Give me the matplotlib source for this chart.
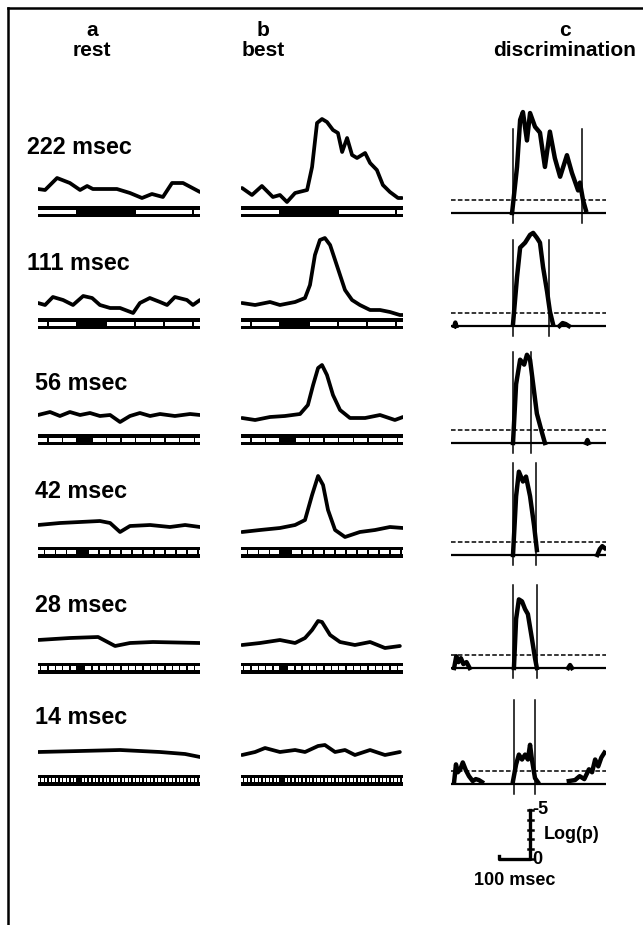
import numpy as np
import matplotlib
matplotlib.use("Agg")
import matplotlib.pyplot as plt
from matplotlib.patches import Rectangle

plt.rcParams['font.family'] = ['Liberation Sans', 'DejaVu Sans']

W, H = 643, 925

durations = [222, 111, 56, 42, 28, 14]
row_labels = ["222 msec", "111 msec", "56 msec", "42 msec", "28 msec", "14 msec"]

# column a (rest) traces: time (msec) and response height
rest_t = [
    [-150, -123, -77, -28, 11, 38, 60, 114, 152, 202, 248, 286, 328, 363, 405, 470],
    [-150, -123, -93, -54, -16, 23, 57, 87, 126, 164, 214, 240, 278, 317, 344, 374, 420, 443, 470],
    [-150, -104, -66, -28, 11, 49, 87, 126, 164, 202, 240, 279, 317, 374, 432, 470],
    [-150, -66, 11, 87, 126, 164, 202, 279, 355, 413, 470],
    [-150, -28, 80, 145, 202, 290, 470],
    [-150, 11, 164, 317, 413, 470],
]
rest_v = [
    [22.5, 21.5, 33.5, 28.5, 21.5, 25.5, 22.5, 22.5, 22.5, 18.5, 13.5, 17.5, 14.5, 28.5, 28.5, 19.5],
    [20.5, 18.5, 26.5, 23.5, 18.5, 27.5, 25.5, 18.5, 15.5, 15.5, 10.5, 20.5, 25.5, 21.5, 18.5, 26.5, 23.5, 18.5, 23.5],
    [25, 28, 24, 28, 25, 27, 24, 25, 18, 24, 27, 24, 26, 24, 26, 25],
    [27, 29, 30, 31, 29, 20, 26, 27, 25, 27, 25],
    [28, 30, 31, 22, 25, 26, 25],
    [28, 29, 30, 28, 26, 23],
]

# column b (best) traces
best_t = [
    [-146, -108, -70, -28, -1, 26, 57, 103, 122, 141, 160, 179, 202, 221, 237, 256, 275, 294, 325, 344, 370, 393, 420, 451, 466],
    [-146, -96, -39, -1, 57, 95, 114, 133, 152, 171, 191, 210, 229, 248, 275, 305, 344, 382, 420, 458, 470],
    [-146, -96, -39, 18, 76, 106, 126, 145, 160, 179, 202, 229, 267, 325, 382, 439, 470],
    [-146, -77, -1, 57, 95, 122, 145, 164, 183, 210, 248, 305, 363, 420, 470],
    [-146, -77, -1, 57, 95, 122, 145, 160, 191, 229, 286, 344, 401, 458],
    [-146, -96, -58, -1, 57, 95, 145, 171, 210, 248, 286, 344, 401, 458],
]
best_v = [
    [23.5, 16.5, 25.5, 14.5, 16.5, 9.5, 18.5, 21.5, 44.5, 88.5, 92.5, 89.5, 81.5, 78.5, 59.5, 73.5, 56.5, 53.5, 58.5, 48.5, 41.5, 26.5, 19.5, 13.5, 13.5],
    [20.5, 18.5, 21.5, 18.5, 21.5, 25.5, 38.5, 68.5, 83.5, 85.5, 78.5, 63.5, 48.5, 33.5, 23.5, 18.5, 13.5, 13.5, 11.5, 8.5, 8.5],
    [22, 20, 23, 24, 26, 35, 55, 72, 75, 65, 45, 30, 22, 22, 25, 20, 23],
    [20, 22, 24, 27, 32, 57, 76, 67, 42, 22, 15, 20, 22, 25, 24],
    [23, 25, 28, 25, 30, 38, 47, 46, 33, 26, 23, 26, 20, 22],
    [25, 28, 32, 28, 30, 28, 34, 35, 28, 30, 25, 30, 25, 28],
]

# column c (discrimination) traces: -log(p) segments per row
disc_segments = [
    [([-3, 13, 23, 32, 45, 55, 71, 87, 103, 119, 135, 152, 174, 190, 210, 216, 226, 235],
      [0, 4.7, 9.5, 10.3, 7.4, 10.2, 8.8, 8.2, 4.7, 8.3, 5.6, 3.7, 5.9, 4.1, 2.3, 3.1, 1.3, 0.3])],
    [([0, 13, 23, 39, 55, 65, 77, 87, 97, 110, 119, 129],
      [0.2, 5, 8, 8.5, 9.3, 9.5, 9, 8.5, 6, 3.5, 1.5, 0.2]),
     ([-189, -186, -183], [0.0, 0.35, 0.0]),
     ([150, 160, 170, 180], [0.0, 0.3, 0.2, 0.0])],
    [([0, 10, 23, 36, 45, 55, 65, 77, 94, 103],
      [0, 6, 8.5, 8, 9, 8.5, 6, 3, 1, 0]),
     ([236, 240, 244], [0.0, 0.3, 0.0])],
    [([0, 10, 19, 32, 42, 55, 68, 77],
      [0, 6, 8.5, 7.5, 8, 6, 3, 0.5]),
     ([272, 280, 288, 296], [0.0, 0.6, 0.9, 0.7])],
    [([3, 10, 19, 29, 39, 48, 61, 71, 77],
      [0, 5, 7, 6.8, 6, 5.5, 3, 1, 0]),
     ([-190, -183, -176, -168, -160, -150, -140], [0.0, 1.2, 0.6, 1.0, 0.4, 0.6, 0.0]),
     ([178, 184, 190], [0.0, 0.3, 0.0])],
    [([-190, -184, -178, -170, -162, -152, -142, -130, -120, -110, -100],
      [0.2, 2.0, 1.2, 1.5, 2.2, 1.4, 0.8, 0.3, 0.5, 0.4, 0.2]),
     ([0, 10, 19, 29, 39, 48, 55, 61, 71, 80],
      [0.3, 2.0, 3.0, 2.5, 3.0, 2.5, 4.0, 2.5, 0.6, 0.2]),
     ([180, 200, 215, 230, 245, 255, 265, 275, 285, 295],
      [0.3, 0.4, 0.8, 0.5, 1.5, 1.2, 2.5, 1.8, 2.7, 3.2])],
]
disc_lines = [(0, 223), (0, 116), (0, 58), (0, 75), (0, 77), (3, 71)]
disc_line_top = [8.6, 8.8, 9.3, 9.4, 8.5, 8.6]
threshold = 1.3

# pixel layout
bar_y = [211.5, 323.5, 440, 552, 668, 780]
disc_y = [213, 326, 443, 555, 668, 784]
label_y = [148, 263, 383, 492, 605, 718]
label_x = [27, 27, 35, 35, 35, 35]
px_per_unit = 9.8


def add_ax(x0, x1, y0, y1):
    ax = fig.add_axes([x0 / W, 1 - y1 / H, (x1 - x0) / W, (y1 - y0) / H])
    ax.axis('off')
    return ax


def draw_bar(ax, dur):
    ax.add_patch(Rectangle((-150, -5.5), 620, 11, color='black', lw=0))
    gap = 5.5
    k0 = int(np.floor(-150 / dur)) - 1
    for k in range(k0, int(470 / dur) + 2):
        s, e = k * dur, (k + 1) * dur
        if k == 0:
            continue
        s = max(s + gap / 2, -150)
        e = min(e - gap / 2, 470)
        if e > s:
            ax.add_patch(Rectangle((s, -2), e - s, 4, color='white', lw=0))


fig = plt.figure(figsize=(W / 100, H / 100), dpi=100)

# frame
fig.add_artist(plt.Line2D([8 / W, 1], [1 - 8 / H, 1 - 8 / H], color='black', lw=1.8))
fig.add_artist(plt.Line2D([8 / W, 8 / W], [0, 1 - 8 / H], color='black', lw=1.8))

# headers
for x, a, b in [(92, "a", "rest"), (263, "b", "best"), (565, "c", "discrimination")]:
    fig.text(x / W, 1 - 30 / H, a, ha='center', va='center', fontsize=15, fontweight='bold')
    fig.text(x / W, 1 - 50 / H, b, ha='center', va='center', fontsize=15, fontweight='bold')

for i in range(6):
    fig.text(label_x[i] / W, 1 - label_y[i] / H, row_labels[i], ha='left', va='center',
             fontsize=16.8, fontweight='bold')

    for x0, x1, ts, vs in [(38, 200, rest_t, rest_v), (241, 403, best_t, best_v)]:
        ax = add_ax(x0, x1, bar_y[i] - 112, bar_y[i] + 8)
        ax.set_xlim(-150, 470)
        ax.set_ylim(-8, 112)
        draw_bar(ax, durations[i])
        ax.plot(ts[i], vs[i], color='black', lw=2.7, solid_joinstyle='round', solid_capstyle='round')

    ax = add_ax(451, 606, disc_y[i] - 112, disc_y[i] + 14)
    ax.set_xlim(-200, 300)
    ax.set_ylim(-14 / px_per_unit, 112 / px_per_unit)
    ax.axhline(0, color='black', lw=1.6)
    ax.axhline(threshold, color='black', lw=1.1, ls=(0, (3, 1.5)))
    for t in disc_lines[i]:
        ax.plot([t, t], [-1.0, disc_line_top[i]], color='black', lw=1.1)
    for ts, vs in disc_segments[i]:
        ax.plot(ts, vs, color='black', lw=3.2, solid_joinstyle='round')

# scale bar
ax = add_ax(451, 606, 790, 900)
ax.set_xlim(-200, 300)
ax.set_ylim(-(900 - 859) / px_per_unit, (859 - 790) / px_per_unit)
ax.plot([-45, -45, 55, 55], [0.35, 0, 0, 5], color='black', lw=2.4)
for k in range(6):
    ax.plot([47, 63], [k, k], color='black', lw=1.8)
ax.text(63, 5.1, "-5", ha='left', va='center', fontsize=13, fontweight='bold')
ax.text(63, 0, "0", ha='left', va='center', fontsize=13, fontweight='bold')
ax.text(100, 2.5, "Log(p)", ha='left', va='center', fontsize=13, fontweight='bold')
ax.text(5, -2.2, "100 msec", ha='center', va='center', fontsize=13, fontweight='bold')

fig.savefig("out.png", dpi=100)
